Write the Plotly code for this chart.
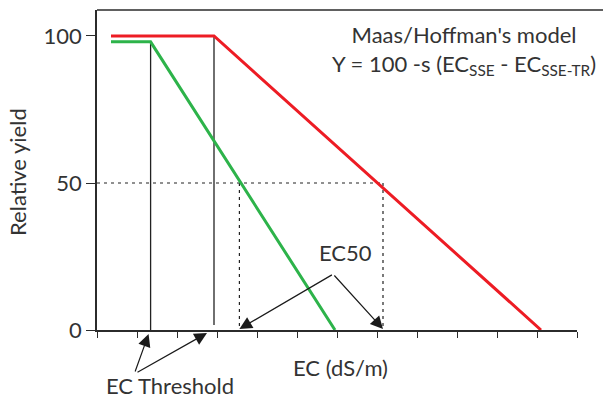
import plotly.graph_objects as go

# ---- data ----
ec_ticks = list(range(0, 13))
yield_ticks = [0, 50, 100]
yield_tick_labels = ["0", "50", "100"]

red_x = [0.35, 2.925, 11.1]
red_y = [100, 100, 0]
green_x = [0.35, 1.34, 5.95]
green_y = [98, 98, 0]

green_threshold = 1.34
red_threshold = 2.925
green_ec50 = 3.56
red_ec50 = 7.15
half_yield = 50

FONT = "Lato"
TXT = "#333333"
AX = "#2b2b2b"
FS = 22

W, H = 603, 400
PL, PR, PT, PB = 97, 577, 10, 330  # plot area in window pixels

fig = go.Figure()

# threshold verticals
fig.add_trace(go.Scatter(x=[green_threshold, green_threshold], y=[green_y[1], 0],
                         mode="lines", line=dict(color="#222222", width=1.3),
                         hoverinfo="skip", showlegend=False))
fig.add_trace(go.Scatter(x=[red_threshold, red_threshold], y=[red_y[1], 1.7],
                         mode="lines", line=dict(color="#222222", width=1.3),
                         hoverinfo="skip", showlegend=False))
# EC50 dashed guides
dash = "3px,4px"
fig.add_trace(go.Scatter(x=[0, red_ec50], y=[half_yield, half_yield],
                         mode="lines", line=dict(color="#222222", width=1.2, dash=dash),
                         hoverinfo="skip", showlegend=False))
fig.add_trace(go.Scatter(x=[green_ec50, green_ec50], y=[half_yield, 0],
                         mode="lines", line=dict(color="#222222", width=1.2, dash=dash),
                         hoverinfo="skip", showlegend=False))
fig.add_trace(go.Scatter(x=[red_ec50, red_ec50], y=[half_yield, 0],
                         mode="lines", line=dict(color="#222222", width=1.2, dash=dash),
                         hoverinfo="skip", showlegend=False))

# response curves
fig.add_trace(go.Scatter(x=green_x, y=green_y, mode="lines",
                         line=dict(color="#2db34a", width=3), showlegend=False))
fig.add_trace(go.Scatter(x=red_x, y=red_y, mode="lines",
                         line=dict(color="#ed1c24", width=3), showlegend=False))


def px(xp):
    return (xp - PL) / (PR - PL)


def py(yp):
    return (PB - yp) / (PB - PT)


annotations = []
arrow = dict(showarrow=True, arrowhead=2, arrowsize=2.1, arrowwidth=1.2,
             arrowcolor="#1a1a1a", text="", xref="x", yref="paper")
# EC threshold arrows
annotations.append(dict(arrow, x=green_threshold, y=py(334), ax=-14, ay=39, xshift=-2))
annotations.append(dict(arrow, x=red_threshold, y=py(333), ax=-71, ay=40, xshift=-7))
# EC50 arrows
annotations.append(dict(arrow, x=green_ec50, y=py(329), ax=94, ay=-55))
annotations.append(dict(arrow, x=red_ec50, y=py(329), ax=-50, ay=-55))

label = dict(xref="paper", yref="paper", showarrow=False,
             xanchor="center", yanchor="middle", borderpad=0,
             font=dict(family=FONT, size=FS, color=TXT))
# texts
annotations.append(dict(label, text="EC Threshold", x=px(170), y=py(385.5)))
annotations.append(dict(label, text="EC50", x=px(345.5), y=py(252)))
annotations.append(dict(label, text="EC (dS/m)", x=px(340), y=py(367)))
annotations.append(dict(label, text="Relative yield", x=px(17), y=py(172), textangle=-90))
annotations.append(dict(label,
                        text="Maas/Hoffman's model<br>Y = 100 -s (EC<sub>SSE</sub> - EC<sub>SSE-TR</sub>)",
                        x=px(464), y=py(50), align="center"))

fig.update_layout(
    width=W, height=H,
    margin=dict(l=PL, r=W - PR, t=PT, b=H - PB, pad=0),
    paper_bgcolor="white", plot_bgcolor="white",
    annotations=annotations,
    shapes=[dict(type="line", xref="paper", yref="paper", x0=0, x1=px(W),
                 y0=1, y1=1, line=dict(color=AX, width=1.5))],
    xaxis=dict(range=[0, 12], tickvals=ec_ticks, showticklabels=False,
               ticks="outside", ticklen=6, tickwidth=1.3, tickcolor=AX,
               showline=True, linecolor=AX, linewidth=1.5,
               showgrid=False, zeroline=False, fixedrange=True),
    yaxis=dict(range=[0, 108.84], tickvals=yield_ticks, ticktext=yield_tick_labels,
               ticks="outside", ticklen=9, tickwidth=1.3, tickcolor=AX,
               showline=True, linecolor=AX, linewidth=1.5,
               tickfont=dict(family=FONT, size=FS, color=TXT),
               showgrid=False, zeroline=False, fixedrange=True),
)

fig.write_html("out.html", config={"displayModeBar": False},
               post_script="document.body.style.margin='0px';document.body.style.overflow='hidden';")
